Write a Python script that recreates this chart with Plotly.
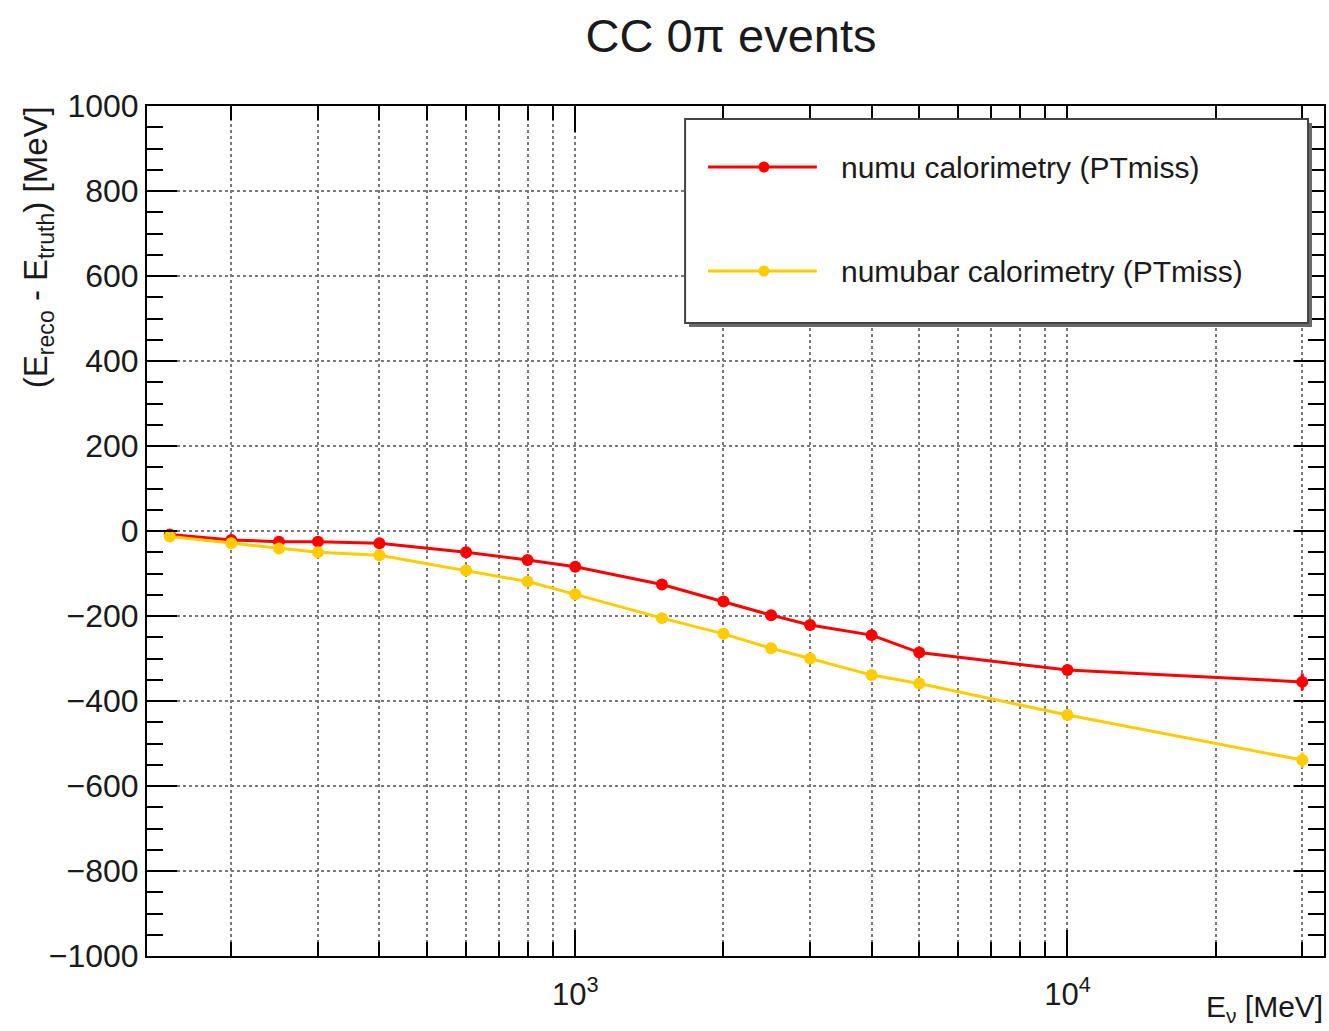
import plotly.graph_objects as go

# Neutrino energy bins [MeV]
energy = [150, 200, 250, 300, 400, 600, 800, 1000, 1500, 2000, 2500, 3000, 4000, 5000, 10000, 30000]

# Mean energy bias (E_reco - E_truth) [MeV]
numu_bias = [-8, -21, -25, -25, -29, -50, -68, -84, -126, -166, -198, -221, -245, -286, -327, -355]
numu_err = [2, 2, 2, 2, 2, 2, 2, 3, 3, 3, 3, 3, 4, 4, 5, 20]

numubar_bias = [-13, -29, -41, -50, -57, -93, -119, -149, -205, -242, -276, -300, -339, -359, -433, -539]
numubar_err = [2, 2, 2, 2, 2, 2, 2, 3, 3, 3, 3, 3, 4, 4, 5, 18]

series_names = ["numu calorimetry (PTmiss)", "numubar calorimetry (PTmiss)"]
series_colors = ["#ff0000", "#ffcc00"]

x_major = [1000, 10000]
x_major_text = ["10<sup>3</sup>", "10<sup>4</sup>"]
x_minor = [200, 300, 400, 500, 600, 700, 800, 900,
           2000, 3000, 4000, 5000, 6000, 7000, 8000, 9000,
           20000, 30000]

W, H = 1329, 1031
ML, MR, MT, MB = 147, 3, 106, 75
PW, PH = W - ML - MR, H - MT - MB
FONT = "Liberation Sans, Arial, Helvetica, sans-serif"
INK = "#1a1a1a"


def px_x(px):
    return (px - ML) / PW


def px_y(py):
    return (H - MB - py) / PH


fig = go.Figure()
for ys, errs, name, col in [
    (numu_bias, numu_err, series_names[0], series_colors[0]),
    (numubar_bias, numubar_err, series_names[1], series_colors[1]),
]:
    fig.add_trace(go.Scatter(
        x=energy, y=ys, name=name, mode="lines+markers",
        line=dict(color=col, width=3),
        marker=dict(color=col, size=12),
        error_y=dict(type="data", array=errs, color=col, thickness=3, width=0),
        showlegend=False,
    ))

shapes = []
annotations = []

# Legend box with a drop shadow
lx0, ly0, lx1, ly1 = 686, 119, 1310, 323
shapes.append(dict(type="rect", xref="paper", yref="paper",
                   x0=px_x(lx0 + 4), x1=px_x(lx1 + 4), y0=px_y(ly0 + 4), y1=px_y(ly1 + 4),
                   fillcolor="#6a6a6a", line=dict(width=0), layer="above"))
shapes.append(dict(type="rect", xref="paper", yref="paper",
                   x0=px_x(lx0), x1=px_x(lx1), y0=px_y(ly0), y1=px_y(ly1),
                   fillcolor="white", line=dict(color="#444444", width=2), layer="above"))

for name, col, ly in zip(series_names, series_colors, [167, 271]):
    shapes.append(dict(type="line", xref="paper", yref="paper",
                       x0=px_x(709), x1=px_x(818), y0=px_y(ly), y1=px_y(ly),
                       line=dict(color=col, width=3), layer="above"))
    shapes.append(dict(type="circle", xref="paper", yref="paper",
                       xsizemode="pixel", ysizemode="pixel",
                       xanchor=px_x(765), yanchor=px_y(ly),
                       x0=-5.5, x1=5.5, y0=-5.5, y1=5.5,
                       fillcolor=col, line=dict(color=col, width=0), layer="above"))
    annotations.append(dict(xref="paper", yref="paper", x=px_x(840), y=px_y(ly),
                            xanchor="left", yanchor="middle", showarrow=False,
                            text=name, font=dict(family=FONT, size=30, color=INK)))

# Axis titles
annotations.append(dict(xref="paper", yref="paper", x=px_x(38), y=px_y(104),
                        xanchor="center", yanchor="top", textangle=-90, showarrow=False,
                        text="(E<sub>reco</sub> - E<sub>truth</sub>) [MeV]",
                        font=dict(family=FONT, size=33, color=INK)))
annotations.append(dict(xref="paper", yref="paper", x=px_x(1327), y=px_y(1029),
                        xanchor="right", yanchor="bottom", showarrow=False,
                        text="E<sub>ν</sub> [MeV]",
                        font=dict(family=FONT, size=30, color=INK)))

fig.update_layout(
    width=W, height=H,
    margin=dict(l=ML, r=MR, t=MT, b=MB),
    paper_bgcolor="white", plot_bgcolor="white",
    title=dict(text="CC 0π events", x=731 / W, xanchor="center",
               y=1 - 36 / H, yanchor="middle",
               font=dict(family=FONT, size=47, color=INK)),
    shapes=shapes, annotations=annotations,
    showlegend=False,
)

fig.update_xaxes(
    type="log", range=[2.1298, 4.5213],
    tickmode="array", tickvals=x_major, ticktext=x_major_text,
    ticks="inside", ticklen=26, tickwidth=2, tickcolor="black",
    tickfont=dict(family=FONT, size=31, color=INK),
    showline=True, linecolor="black", linewidth=2, mirror="allticks",
    showgrid=True, gridcolor="#7a7a7a", griddash="dot", gridwidth=1.5,
    minor=dict(tickvals=x_minor, ticks="inside", ticklen=14, tickwidth=2,
               tickcolor="black", showgrid=True, gridcolor="#7a7a7a",
               griddash="dot", gridwidth=1.5),
    zeroline=False, ticklabelstandoff=10,
)

fig.update_yaxes(
    range=[-1000, 1000], dtick=200, tick0=0,
    ticks="inside", ticklen=30, tickwidth=2, tickcolor="black",
    tickfont=dict(family=FONT, size=32, color=INK),
    showline=True, linecolor="black", linewidth=2, mirror="allticks",
    showgrid=True, gridcolor="#7a7a7a", griddash="dot", gridwidth=1.5,
    minor=dict(dtick=50, ticks="inside", ticklen=16, tickwidth=2,
               tickcolor="black", showgrid=False),
    zeroline=False,
)

fig.write_html("out.html")
